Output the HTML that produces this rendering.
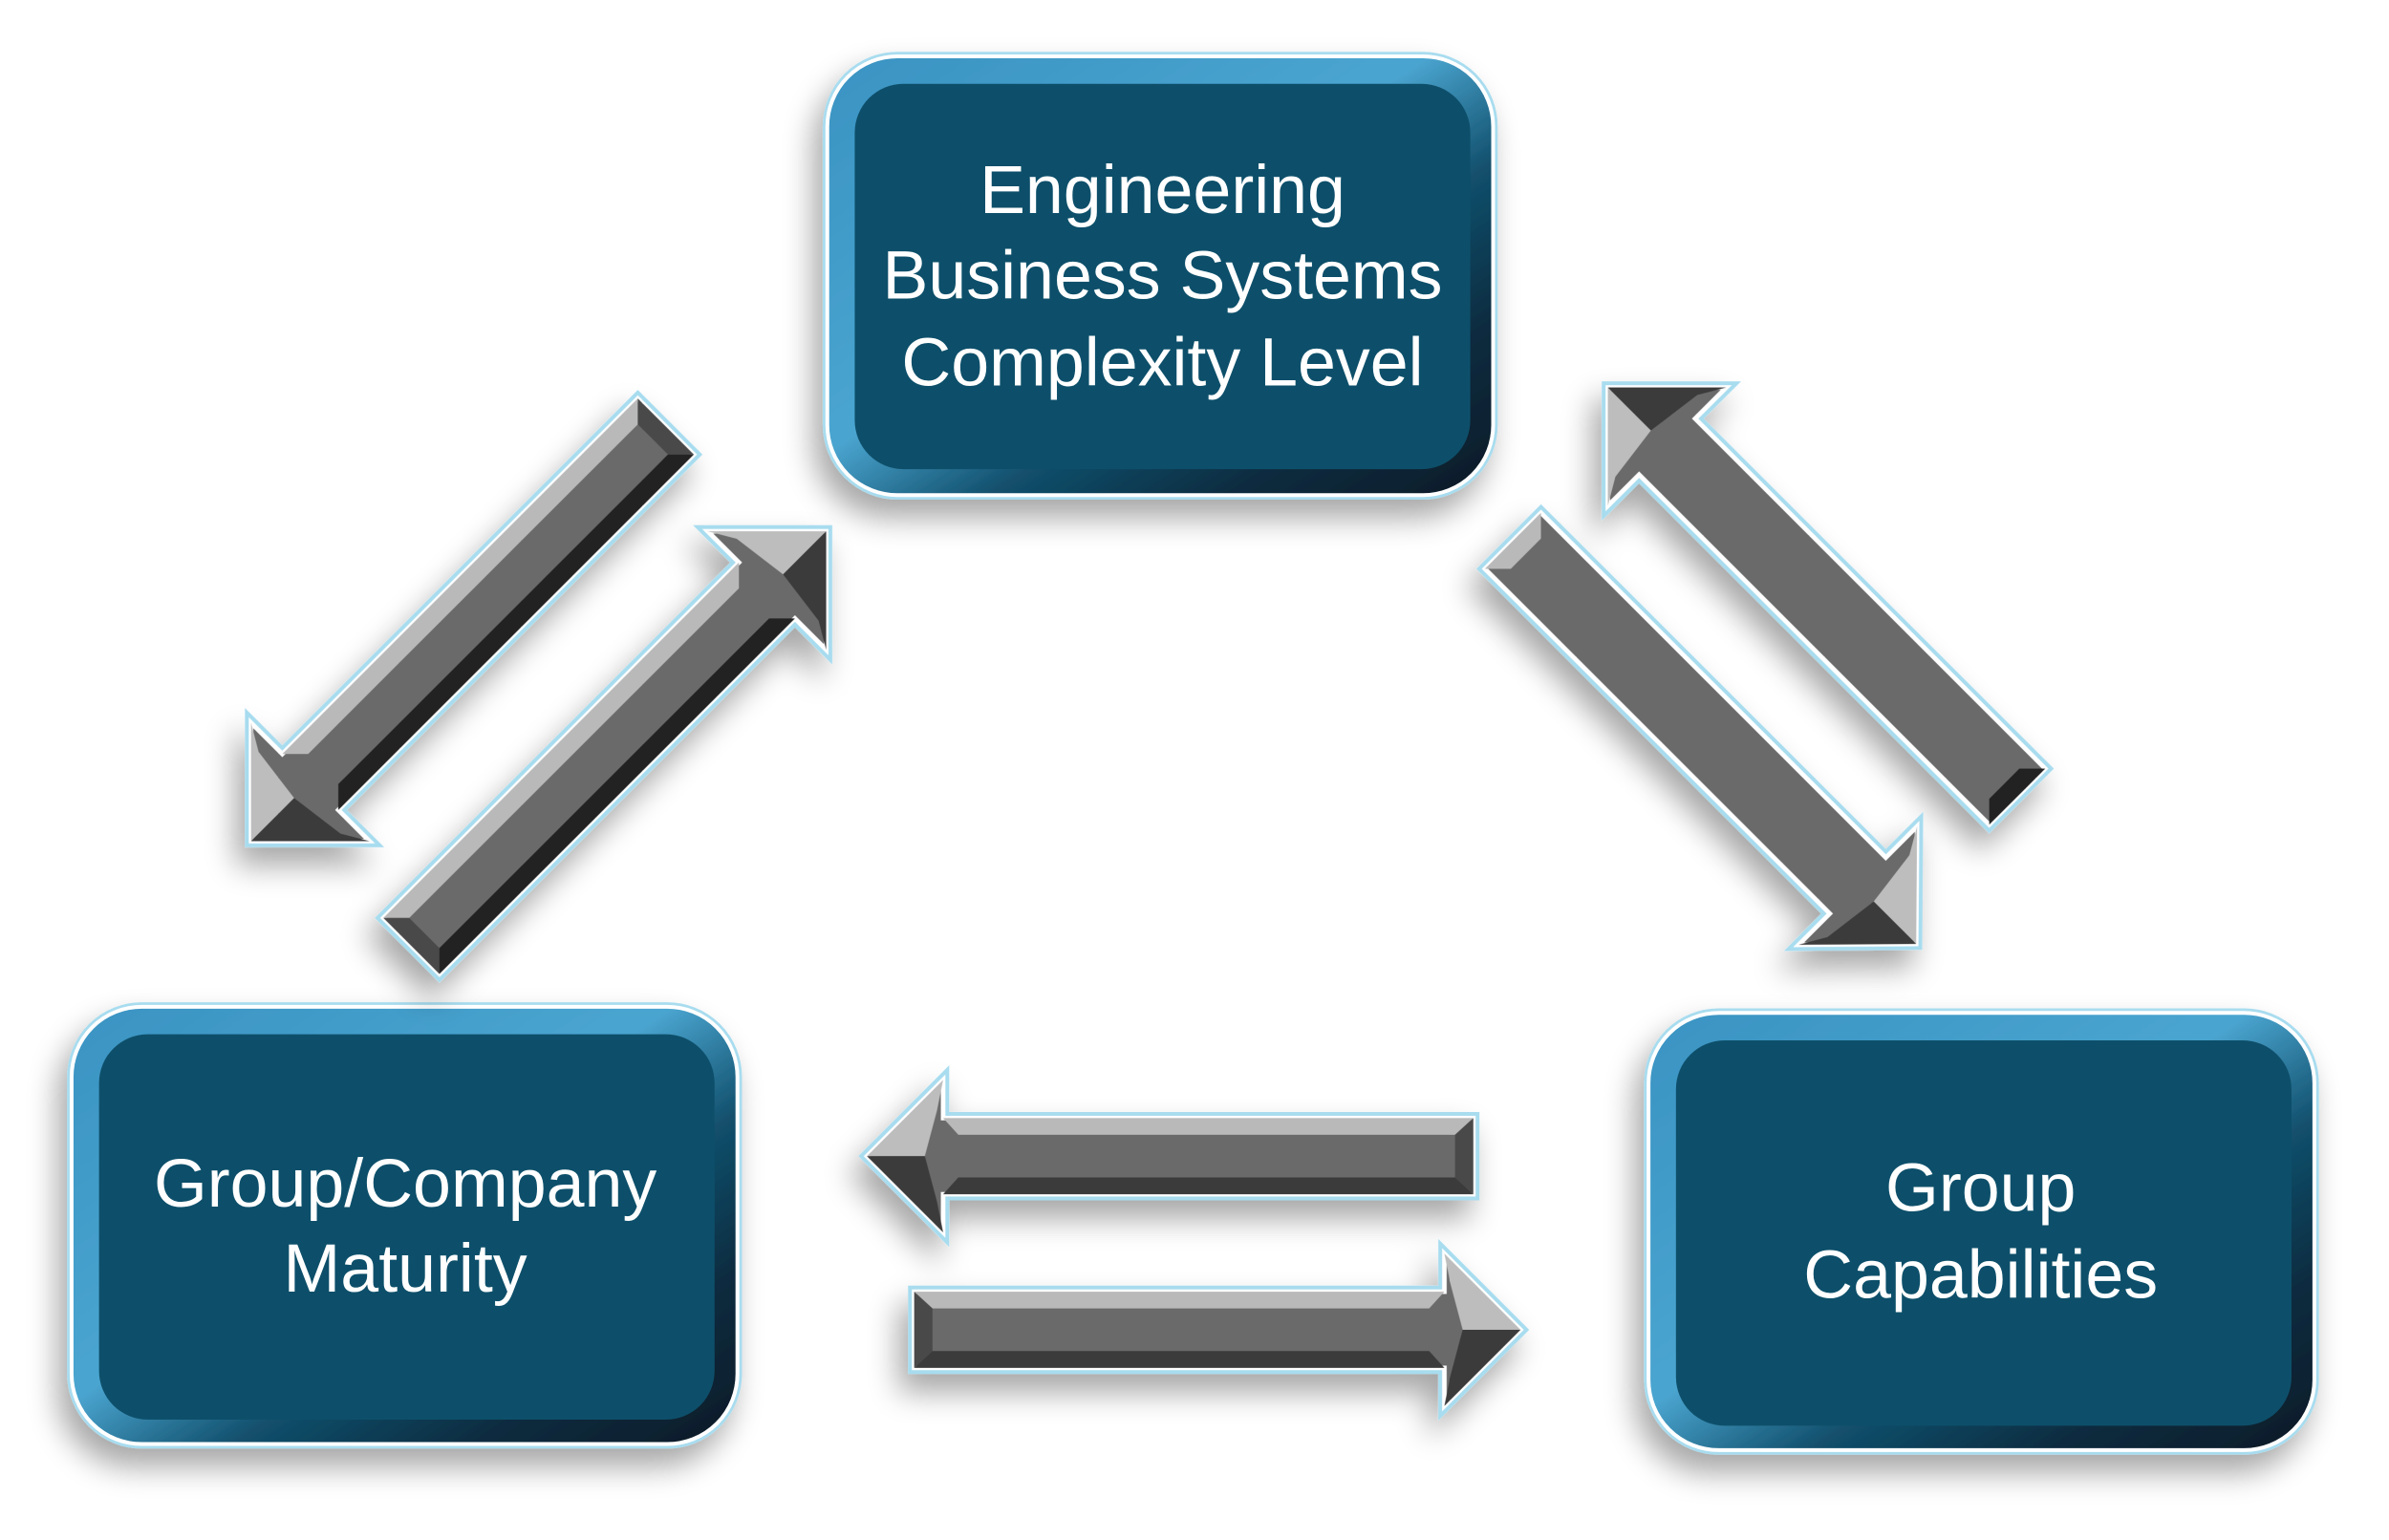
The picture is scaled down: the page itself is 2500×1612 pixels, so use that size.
<!DOCTYPE html>
<html><head><meta charset="utf-8"><style>
html,body{margin:0;padding:0;background:#fff;}
svg{display:block;}
text{font-family:"Liberation Sans",sans-serif;fill:#fff;font-size:45px;text-anchor:middle;}
</style></head><body>
<svg width="2500" height="1612" viewBox="0 0 1568 1011" xmlns="http://www.w3.org/2000/svg">
<defs>
<filter id="sh" x="-20%" y="-20%" width="140%" height="150%">
<feGaussianBlur in="SourceAlpha" stdDeviation="10"/>
<feOffset dx="-6" dy="12" result="b"/>
<feComponentTransfer><feFuncA type="linear" slope="0.35"/></feComponentTransfer>
<feMerge><feMergeNode/><feMergeNode in="SourceGraphic"/></feMerge>
</filter>
<linearGradient id="bev" x1="0" y1="0" x2="1" y2="1">
<stop offset="0" stop-color="#3a93c2"/><stop offset="0.45" stop-color="#4aa5d0"/>
<stop offset="0.62" stop-color="#12506d"/><stop offset="0.8" stop-color="#0b2c40"/><stop offset="1" stop-color="#061a26"/>
</linearGradient>
<g id="arrL">
<polygon points="0,-26 330,-26 330,-55 385,0 330,55 330,26 0,26" fill="#6a6a6a" stroke="#a8dcef" stroke-width="8"/>
<polygon points="0,-26 330,-26 330,-55 385,0 330,55 330,26 0,26" fill="#6a6a6a" stroke="#fff" stroke-width="3"/>
<polygon points="0,-26 330,-26 318,-14 12,-14" fill="#b9b9b9"/>
<polygon points="0,26 330,26 318,14 12,14" fill="#222"/>
<polygon points="0,-26 12,-14 12,14 0,26" fill="#4a4a4a"/>
<polygon points="330,-55 385,0 345,0 340,-38" fill="#bdbdbd"/>
<polygon points="330,55 385,0 345,0 340,38" fill="#3a3a3a"/>
</g>
<g id="arrH">
<polygon points="0,-25 348,-25 348,-50 398,0 348,50 348,25 0,25" fill="#6a6a6a" stroke="#a8dcef" stroke-width="8"/>
<polygon points="0,-25 348,-25 348,-50 398,0 348,50 348,25 0,25" fill="#6a6a6a" stroke="#fff" stroke-width="3"/>
<polygon points="0,-25 348,-25 338,-14 12,-14" fill="#b9b9b9"/>
<polygon points="0,25 348,25 338,14 12,14" fill="#3a3a3a"/>
<polygon points="0,-25 12,-14 12,14 0,25" fill="#4a4a4a"/>
<polygon points="348,-50 398,0 360,0 352,-30" fill="#bdbdbd"/>
<polygon points="348,50 398,0 360,0 352,30" fill="#3a3a3a"/>
</g>
<g id="arrP">
<polygon points="0,-26 325,-26 325,-55 380,0 325,55 325,26 0,26" fill="#6a6a6a" stroke="#a8dcef" stroke-width="8"/>
<polygon points="0,-26 325,-26 325,-55 380,0 325,55 325,26 0,26" fill="#6a6a6a" stroke="#fff" stroke-width="3"/>
<polygon points="325,-55 380,0 340,0 335,-38" fill="#bdbdbd"/>
<polygon points="325,55 380,0 340,0 335,38" fill="#3a3a3a"/>
</g>
</defs>

<g filter="url(#sh)">
<rect x="543" y="37" width="437" height="288" rx="46" fill="url(#bev)" stroke="#a8dcef" stroke-width="6"/>
<rect x="543" y="37" width="437" height="288" rx="46" fill="url(#bev)" stroke="#fff" stroke-width="2.5"/>
<rect x="561" y="55" width="404" height="253" rx="32" fill="#114f6b"/>
</g>
<g filter="url(#sh)">
<rect x="47" y="661" width="437" height="287" rx="46" fill="url(#bev)" stroke="#a8dcef" stroke-width="6"/>
<rect x="47" y="661" width="437" height="287" rx="46" fill="url(#bev)" stroke="#fff" stroke-width="2.5"/>
<rect x="65" y="679" width="404" height="253" rx="32" fill="#114f6b"/>
</g>
<g filter="url(#sh)">
<rect x="1082" y="665" width="437" height="287" rx="46" fill="url(#bev)" stroke="#a8dcef" stroke-width="6"/>
<rect x="1082" y="665" width="437" height="287" rx="46" fill="url(#bev)" stroke="#fff" stroke-width="2.5"/>
<rect x="1100" y="683" width="404" height="253" rx="32" fill="#114f6b"/>
</g>
<text x="763" y="140">Engineering</text>
<text x="763" y="196">Business Systems</text>
<text x="763" y="253">Complexity Level</text>
<text x="266" y="792">Group/Company</text>
<text x="266" y="848">Maturity</text>
<text x="1300" y="795">Group</text>
<text x="1300" y="852">Capabilities</text>

<g filter="url(#sh)">
<use href="#arrL" transform="translate(437,280) rotate(135) scale(1,-1)"/>
<use href="#arrL" transform="translate(270,621) rotate(-45)"/>
<g transform="translate(1324,523) rotate(-135)">
<use href="#arrP"/>
<polygon points="0,-26 12,-14 12,14 0,26" fill="#222"/>
</g>
<g transform="translate(993,355) rotate(45)">
<use href="#arrP" transform="scale(0.985,1)"/>
<polygon points="0,-26 12,-14 12,14 0,26" fill="#b9b9b9"/>
</g>
<use href="#arrH" transform="translate(967,759) rotate(180) scale(1,-1)"/>
<use href="#arrH" transform="translate(600,873)"/>
</g>
</svg>
</body></html>
